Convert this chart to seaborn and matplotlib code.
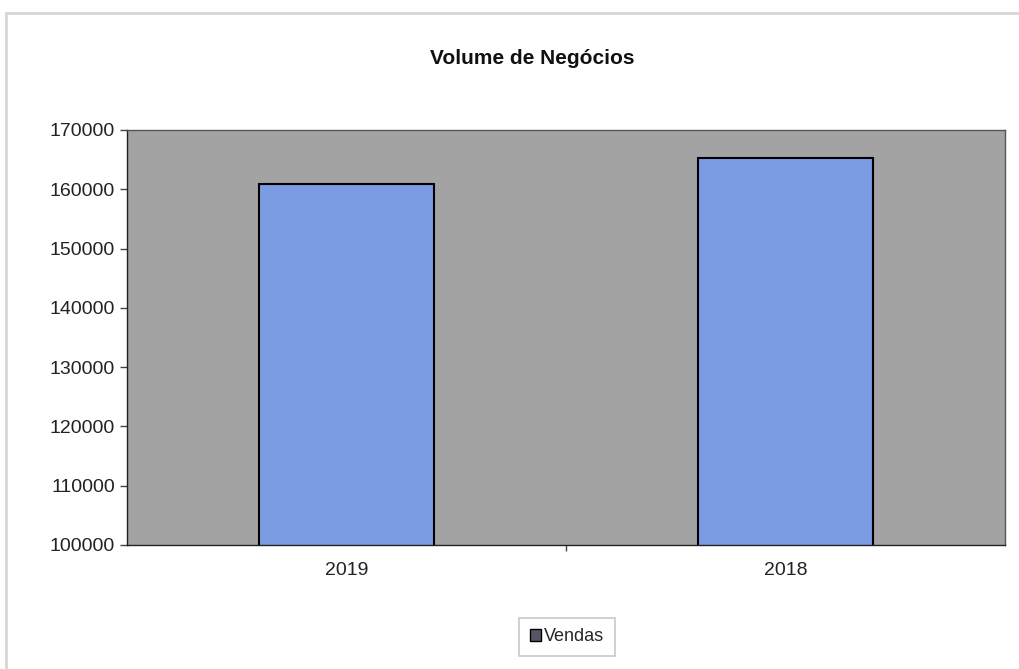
import matplotlib
matplotlib.use("Agg")
import matplotlib.pyplot as plt
import seaborn as sns
import pandas as pd
from matplotlib.patches import Patch
from matplotlib.lines import Line2D

# chart values
years = ["2019", "2018"]
vendas = [160900, 165300]
y_ticks = [100000, 110000, 120000, 130000, 140000, 150000, 160000, 170000]

title = "Volume de Negócios"
series_name = "Vendas"

bar_color = "#7b9be2"
plot_bg = "#a3a3a3"

df = pd.DataFrame({"ano": years, "valor": vendas})

sns.set_style("white")
plt.rcParams["font.family"] = ["Liberation Sans", "DejaVu Sans"]

fig = plt.figure(figsize=(10.2, 6.69), dpi=100)
ax = fig.add_axes([0.1245, 0.1854, 0.861, 0.6203])

sns.barplot(data=df, x="ano", y="valor", color=bar_color, width=0.4,
            edgecolor="black", linewidth=1.5, saturation=1, ax=ax)

ax.set_facecolor(plot_bg)
ax.set_ylim(100000, 170000)
ax.set_xlim(-0.5, 1.5)
ax.set_yticks(y_ticks)
ax.set_yticklabels([str(t) for t in y_ticks], fontsize=14, color="#222222")
ax.tick_params(axis="x", labelsize=14, colors="#222222", length=0, pad=12)
ax.tick_params(axis="y", length=5, width=1, color="#444444", left=True)
# small separator tick between the two categories
ax.set_xticks([0.5], minor=True)
ax.tick_params(axis="x", which="minor", bottom=True, length=4, width=1, color="#444444")
ax.set_xlabel("")
ax.set_ylabel("")

for side, sp in ax.spines.items():
    sp.set_visible(True)
    sp.set_color("#555555")
    sp.set_linewidth(1.0)
ax.spines["bottom"].set_color("#222222")
ax.spines["left"].set_color("#222222")

fig.text(0.522, 0.913, title, ha="center", va="center", fontsize=15,
         fontweight="bold", color="#111111")

handle = Patch(facecolor="#555566", edgecolor="black", linewidth=1)
leg = fig.legend([handle], [series_name], loc="center", bbox_to_anchor=(0.556, 0.048),
                 fontsize=13, frameon=True, fancybox=False, handlelength=0.6,
                 handleheight=0.6, handletextpad=0.2, borderpad=0.6)
leg.get_frame().set_edgecolor("#bbbbbb")
leg.get_frame().set_linewidth(1.2)

# faint top and left edges of the scanned chart frame
fig.add_artist(Line2D([0.006, 1.0], [0.981, 0.981], transform=fig.transFigure,
                      color="#d6d6d6", linewidth=2))
fig.add_artist(Line2D([0.006, 0.006], [0.0, 0.981], transform=fig.transFigure,
                      color="#d6d6d6", linewidth=2))

fig.savefig("out.png", dpi=100)
